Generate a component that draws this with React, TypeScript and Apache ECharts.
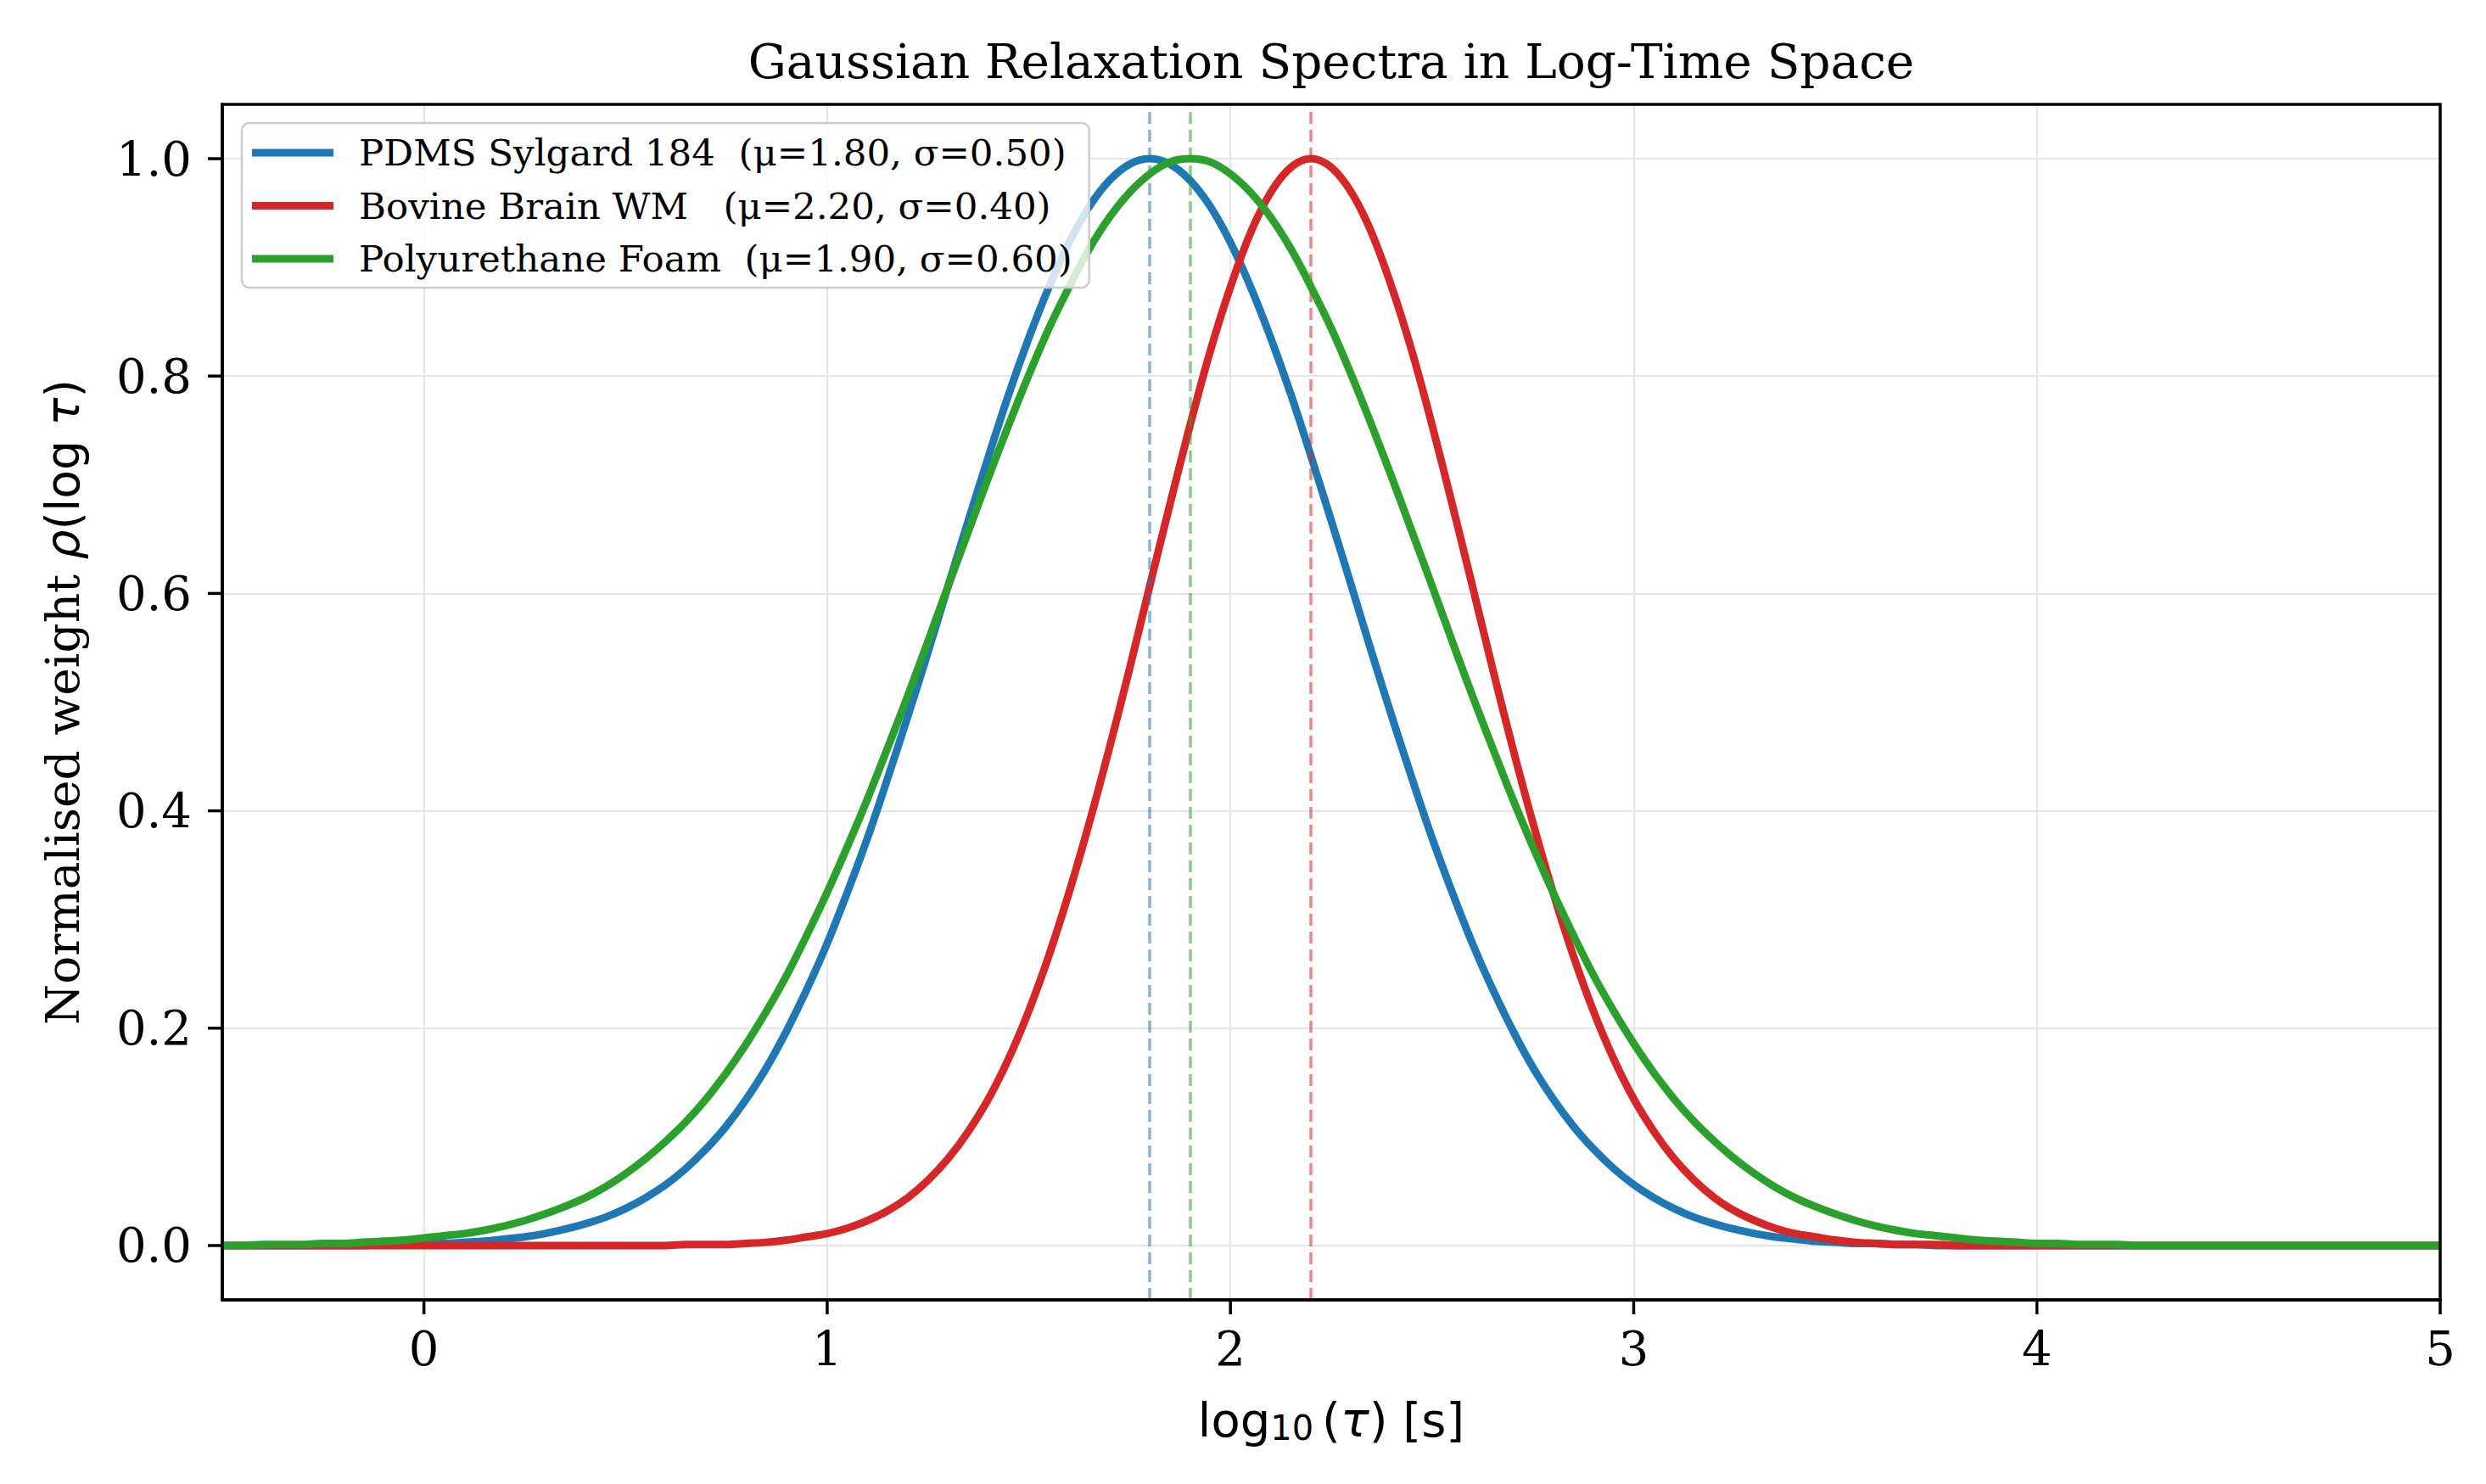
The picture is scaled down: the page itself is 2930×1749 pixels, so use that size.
import React, { useEffect, useRef } from "react";
import * as echarts from "echarts";

const LOG_TAU = [
  -0.5, -0.45, -0.4, -0.35, -0.3, -0.25, -0.2, -0.15, -0.1, -0.05,
  0.0, 0.05, 0.1, 0.15, 0.2, 0.25, 0.3, 0.35, 0.4, 0.45,
  0.5, 0.55, 0.6, 0.65, 0.7, 0.75, 0.8, 0.85, 0.9, 0.95,
  1.0, 1.05, 1.1, 1.15, 1.2, 1.25, 1.3, 1.35, 1.4, 1.45,
  1.5, 1.55, 1.6, 1.65, 1.7, 1.75, 1.8, 1.85, 1.9, 1.95,
  2.0, 2.05, 2.1, 2.15, 2.2, 2.25, 2.3, 2.35, 2.4, 2.45,
  2.5, 2.55, 2.6, 2.65, 2.7, 2.75, 2.8, 2.85, 2.9, 2.95,
  3.0, 3.05, 3.1, 3.15, 3.2, 3.25, 3.3, 3.35, 3.4, 3.45,
  3.5, 3.55, 3.6, 3.65, 3.7, 3.75, 3.8, 3.85, 3.9, 3.95,
  4.0, 4.05, 4.1, 4.15, 4.2, 4.25, 4.3, 4.35, 4.4, 4.45,
  4.5, 4.55, 4.6, 4.65, 4.7, 4.75, 4.8, 4.85, 4.9, 4.95,
  5.0,
];

const PDMS = [
  0, 0, 0, 0, 0, 0, 0, 0, 0.001, 0.001,
  0.002, 0.002, 0.003, 0.004, 0.006, 0.008, 0.011, 0.015, 0.02, 0.026,
  0.034, 0.044, 0.056, 0.071, 0.089, 0.11, 0.135, 0.164, 0.198, 0.236,
  0.278, 0.325, 0.375, 0.43, 0.487, 0.546, 0.607, 0.667, 0.726, 0.783,
  0.835, 0.882, 0.923, 0.956, 0.98, 0.995, 1.0, 0.995, 0.98, 0.956,
  0.923, 0.882, 0.835, 0.783, 0.726, 0.667, 0.607, 0.546, 0.487, 0.43,
  0.375, 0.325, 0.278, 0.236, 0.198, 0.164, 0.135, 0.11, 0.089, 0.071,
  0.056, 0.044, 0.034, 0.026, 0.02, 0.015, 0.011, 0.008, 0.006, 0.004,
  0.003, 0.002, 0.002, 0.001, 0.001, 0, 0, 0, 0, 0,
  0, 0, 0, 0, 0, 0, 0, 0, 0, 0,
  0, 0, 0, 0, 0, 0, 0, 0, 0, 0,
  0,
];

const BOVINE = [
  0, 0, 0, 0, 0, 0, 0, 0, 0, 0,
  0, 0, 0, 0, 0, 0, 0, 0, 0, 0,
  0, 0, 0, 0.001, 0.001, 0.001, 0.002, 0.003, 0.005, 0.008,
  0.011, 0.016, 0.023, 0.032, 0.044, 0.06, 0.08, 0.105, 0.135, 0.172,
  0.216, 0.267, 0.325, 0.389, 0.458, 0.531, 0.607, 0.682, 0.755, 0.823,
  0.882, 0.932, 0.969, 0.992, 1.0, 0.992, 0.969, 0.932, 0.882, 0.823,
  0.755, 0.682, 0.607, 0.531, 0.458, 0.389, 0.325, 0.267, 0.216, 0.172,
  0.135, 0.105, 0.08, 0.06, 0.044, 0.032, 0.023, 0.016, 0.011, 0.008,
  0.005, 0.003, 0.002, 0.001, 0.001, 0.001, 0, 0, 0, 0,
  0, 0, 0, 0, 0, 0, 0, 0, 0, 0,
  0, 0, 0, 0, 0, 0, 0, 0, 0, 0,
  0,
];

const FOAM = [
  0, 0, 0.001, 0.001, 0.001, 0.002, 0.002, 0.003, 0.004, 0.005,
  0.007, 0.009, 0.011, 0.014, 0.018, 0.023, 0.029, 0.036, 0.044, 0.054,
  0.066, 0.08, 0.096, 0.114, 0.135, 0.159, 0.186, 0.216, 0.249, 0.286,
  0.325, 0.367, 0.411, 0.458, 0.506, 0.556, 0.607, 0.657, 0.707, 0.755,
  0.801, 0.844, 0.882, 0.917, 0.946, 0.969, 0.986, 0.997, 1.0, 0.997,
  0.986, 0.969, 0.946, 0.917, 0.882, 0.844, 0.801, 0.755, 0.707, 0.657,
  0.607, 0.556, 0.506, 0.458, 0.411, 0.367, 0.325, 0.286, 0.249, 0.216,
  0.186, 0.159, 0.135, 0.114, 0.096, 0.08, 0.066, 0.054, 0.044, 0.036,
  0.029, 0.023, 0.018, 0.014, 0.011, 0.009, 0.007, 0.005, 0.004, 0.003,
  0.002, 0.002, 0.001, 0.001, 0.001, 0, 0, 0, 0, 0,
  0, 0, 0, 0, 0, 0, 0, 0, 0, 0,
  0,
];

const SERIES_NAMES = [
  "PDMS Sylgard 184  (μ=1.80, σ=0.50)",
  "Bovine Brain WM   (μ=2.20, σ=0.40)",
  "Polyurethane Foam  (μ=1.90, σ=0.60)",
];
const SERIES_VALUES = [PDMS, BOVINE, FOAM];
const MEANS = [1.8, 2.2, 1.9];
const COLORS = ["#1f77b4", "#d62728", "#2ca02c"];

const X_MIN = -0.5;
const X_MAX = 5;
const Y_MIN = -0.05;
const Y_MAX = 1.05;
const X_TICKS = [0, 1, 2, 3, 4, 5];
const Y_TICKS = [0, 0.2, 0.4, 0.6, 0.8, 1.0];

const TITLE = "Gaussian Relaxation Spectra in Log-Time Space";

const SERIF = "'DejaVu Serif', serif";
const SANS = "'DejaVu Sans', sans-serif";

const GRID = { left: 262, right: 54, top: 123, bottom: 217 };
const W = 2930;
const H = 1749;
const TICK_LEN = 17;

export default function App() {
  const ref = useRef<HTMLDivElement | null>(null);

  useEffect(() => {
    if (!ref.current) return;
    const chart = echarts.init(ref.current, null, { renderer: "svg" });

    const series: any[] = SERIES_VALUES.map((vals, i) => ({
      type: "line",
      name: SERIES_NAMES[i],
      data: LOG_TAU.map((x, j) => [x, vals[j]]),
      showSymbol: false,
      symbol: "none",
      smooth: 0.35,
      z: 3 + i,
      lineStyle: { color: COLORS[i], width: 9 },
      itemStyle: { color: COLORS[i] },
      markLine: {
        silent: true,
        animation: false,
        symbol: ["none", "none"],
        label: { show: false },
        lineStyle: {
          color: COLORS[i],
          type: [14, 7],
          width: 3.5,
          opacity: 0.55,
        },
        data: [{ xAxis: MEANS[i] }],
      },
    }));

    const axisLine = {
      show: true,
      onZero: false,
      lineStyle: { color: "#000000", width: 3.5 },
    };

    const baseGraphic: any[] = [
      {
        type: "text",
        id: "title",
        x: 1569,
        y: 72,
        z: 10,
        style: {
          text: TITLE,
          align: "center",
          verticalAlign: "middle",
          fontFamily: SERIF,
          fontSize: 56.5,
          fill: "#000000",
        },
      },
      {
        type: "rect",
        id: "frame",
        z: 50,
        silent: true,
        shape: {
          x: GRID.left,
          y: GRID.top,
          width: W - GRID.left - GRID.right,
          height: H - GRID.top - GRID.bottom,
        },
        style: { fill: "none", stroke: "#000000", lineWidth: 3.5 },
      },
    ];

    const option: any = {
      animation: false,
      backgroundColor: "#ffffff",
      grid: {
        left: GRID.left,
        right: GRID.right,
        top: GRID.top,
        bottom: GRID.bottom,
        show: false,
        containLabel: false,
      },
      graphic: baseGraphic,
      legend: {
        show: true,
        orient: "vertical",
        left: 285,
        top: 145,
        padding: [13, 20, 12, 12],
        itemGap: 18.5,
        itemWidth: 96,
        itemHeight: 9,
        icon: "rect",
        selectedMode: false,
        backgroundColor: "rgba(255,255,255,0.8)",
        borderColor: "#cccccc",
        borderWidth: 2.5,
        borderRadius: 9,
        z: 20,
        textStyle: {
          fontFamily: SERIF,
          fontSize: 43.5,
          color: "#000000",
          padding: [0, 0, 0, 25],
        },
        data: SERIES_NAMES,
      },
      xAxis: {
        type: "value",
        min: X_MIN,
        max: X_MAX,
        name: "{r|log}{sub|10}{r|(}{i|τ}{r|) [s]}",
        nameLocation: "middle",
        nameGap: 111,
        nameTextStyle: {
          rich: {
            r: { fontFamily: SANS, fontSize: 56, lineHeight: 60, color: "#000" },
            sub: {
              fontFamily: SANS,
              fontSize: 40,
              lineHeight: 32,
              verticalAlign: "bottom",
              padding: [0, 10, 0, 0],
              color: "#000",
            },
            i: {
              fontFamily: SANS,
              fontStyle: "italic",
              fontSize: 56,
              lineHeight: 60,
              color: "#000",
            },
          },
        },
        axisLine,
        axisTick: { show: false },
        axisLabel: {
          show: true,
          margin: 29,
          customValues: X_TICKS,
          fontFamily: SERIF,
          fontSize: 56,
          color: "#000",
          formatter: (v: number) => String(v),
        },
        splitLine: {
          show: true,
          lineStyle: { color: "#e6e6e6", width: 2 },
        },
      },
      yAxis: {
        type: "value",
        min: Y_MIN,
        max: Y_MAX,
        name: "{s|Normalised weight }{mi|ρ}{m|(log }{mi|τ}{m|)}",
        nameLocation: "middle",
        nameGap: 161,
        nameRotate: 90,
        nameTextStyle: {
          rich: {
            s: { fontFamily: SERIF, fontSize: 55, color: "#000" },
            m: { fontFamily: SANS, fontSize: 55, color: "#000" },
            mi: { fontFamily: SANS, fontStyle: "italic", fontSize: 55, color: "#000" },
          },
        },
        axisLine,
        axisTick: { show: false },
        axisLabel: {
          show: true,
          margin: 36,
          customValues: Y_TICKS,
          fontFamily: SERIF,
          fontSize: 56,
          color: "#000",
          formatter: (v: number) => v.toFixed(1),
        },
        splitLine: {
          show: true,
          lineStyle: { color: "#e6e6e6", width: 2 },
        },
      },
      series,
    };

    chart.setOption(option);

    const yBottom = chart.convertToPixel({ yAxisIndex: 0 }, Y_MIN) as number;
    const xLeft = chart.convertToPixel({ xAxisIndex: 0 }, X_MIN) as number;
    const tickGraphic: any[] = [];
    X_TICKS.forEach((v, k) => {
      const px = chart.convertToPixel({ xAxisIndex: 0 }, v) as number;
      tickGraphic.push({
        type: "rect",
        id: "xt" + k,
        z: 60,
        silent: true,
        shape: { x: px - 1.75, y: yBottom, width: 3.5, height: TICK_LEN },
        style: { fill: "#000000" },
      });
    });
    Y_TICKS.forEach((v, k) => {
      const py = chart.convertToPixel({ yAxisIndex: 0 }, v) as number;
      tickGraphic.push({
        type: "rect",
        id: "yt" + k,
        z: 60,
        silent: true,
        shape: { x: xLeft - TICK_LEN, y: py - 1.75, width: TICK_LEN, height: 3.5 },
        style: { fill: "#000000" },
      });
    });
    chart.setOption({ graphic: baseGraphic.concat(tickGraphic) });

    return () => {
      chart.dispose();
    };
  }, []);

  return (
    <div
      ref={ref}
      style={{
        position: "fixed",
        left: 0,
        top: 0,
        width: W,
        height: H,
        background: "#ffffff",
      }}
    />
  );
}
